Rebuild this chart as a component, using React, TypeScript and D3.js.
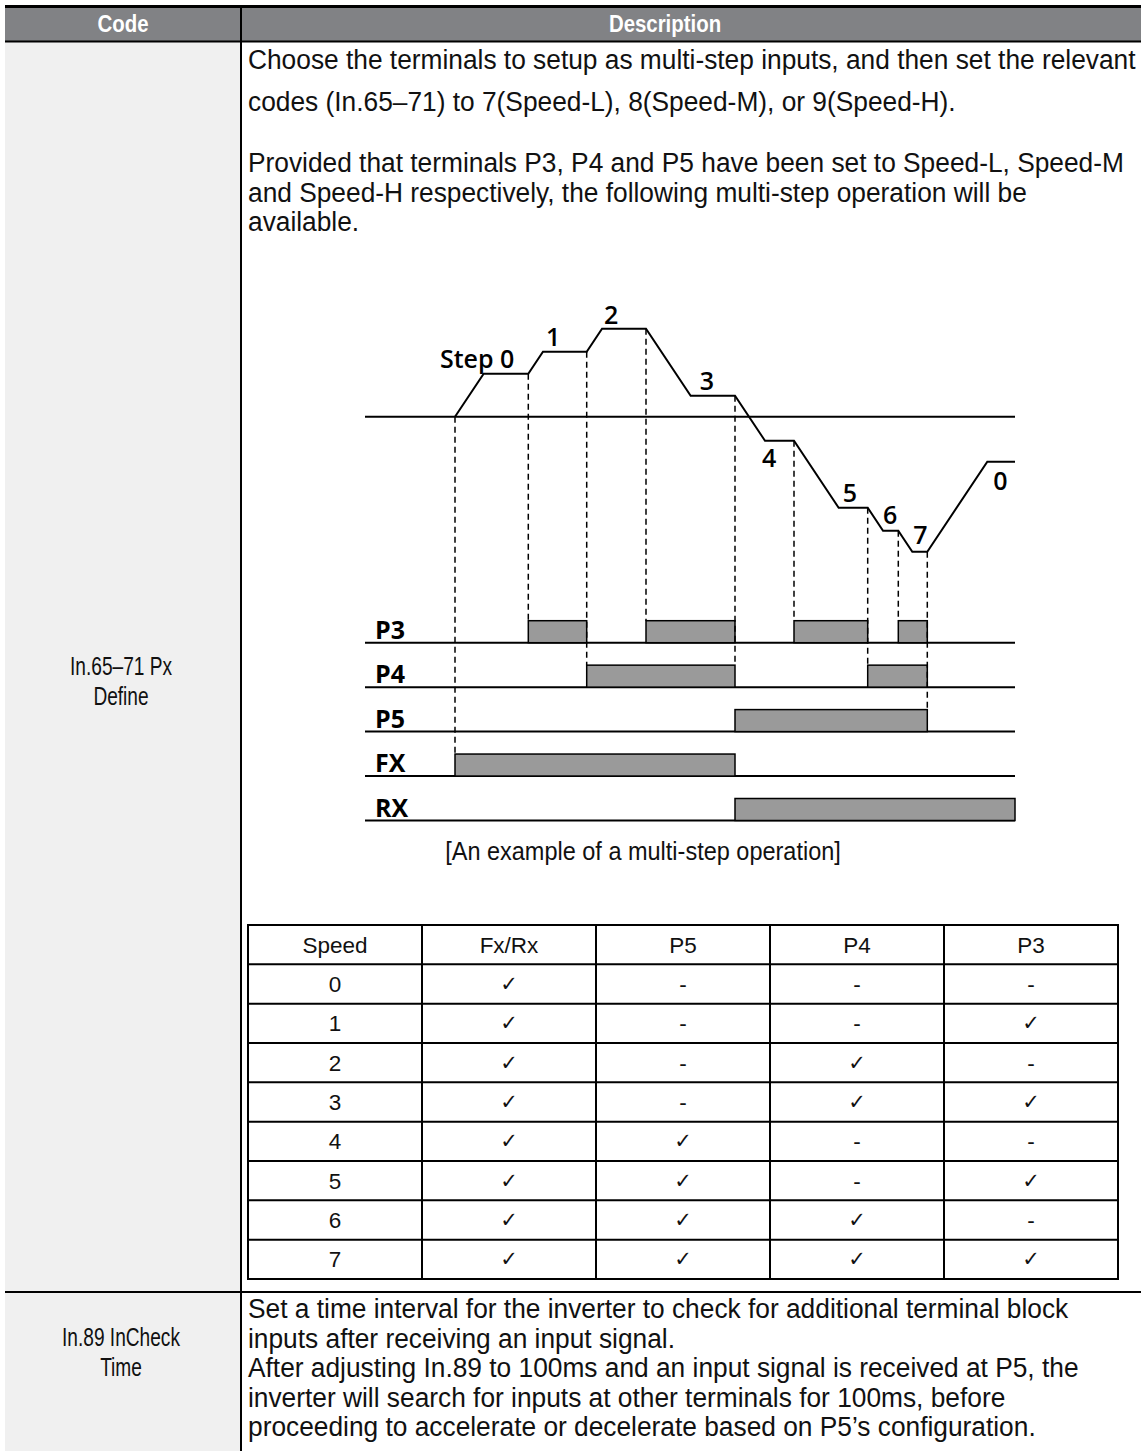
import React from "react";
import * as d3 from "d3";

// ---------------- text content ----------------
const headerLabels = ["Code", "Description"];
const codeRow1 = ["In.65–71 Px", "Define"];
const codeRow2 = ["In.89 InCheck", "Time"];
const introPara1 = [
  "Choose the terminals to setup as multi-step inputs, and then set the relevant",
  "codes (In.65–71) to 7(Speed-L), 8(Speed-M), or 9(Speed-H).",
];
const introPara2 = [
  "Provided that terminals P3, P4 and P5 have been set to Speed-L, Speed-M",
  "and Speed-H respectively, the following multi-step operation will be",
  "available.",
];
const caption = "[An example of a multi-step operation]";
const bottomLines = [
  "Set a time interval for the inverter to check for additional terminal block",
  "inputs after receiving an input signal.",
  "After adjusting In.89 to 100ms and an input signal is received at P5, the",
  "inverter will search for inputs at other terminals for 100ms, before",
  "proceeding to accelerate or decelerate based on P5’s configuration.",
];

// ---------------- speed table ----------------
const tableColumns = ["Speed", "Fx/Rx", "P5", "P4", "P3"];
const speedSteps = ["0", "1", "2", "3", "4", "5", "6", "7"];
const fxRxCol = ["✓", "✓", "✓", "✓", "✓", "✓", "✓", "✓"];
const p5Col = ["-", "-", "-", "-", "✓", "✓", "✓", "✓"];
const p4Col = ["-", "-", "✓", "✓", "-", "-", "✓", "✓"];
const p3Col = ["-", "✓", "-", "✓", "-", "✓", "-", "✓"];

// ---------------- timing diagram ----------------
const terminals = ["P3", "P4", "P5", "FX", "RX"];
const startTime = -90;
const endTime = 560;
const switchTimes = [0, 73.3, 131.7, 191, 280, 339, 412.7, 443.3, 472.3];
const stepSequence = [0, 1, 2, 3, 4, 5, 6, 7, 0];
const stepDirection = ["FX", "FX", "FX", "FX", "RX", "RX", "RX", "RX", "RX"];
const stepSpeeds = [43, 65, 88, 21, 24, 91, 114, 135, 45];
const stepLabels = ["Step 0", "1", "2", "3", "4", "5", "6", "7", "0"];
const dashTarget = ["FX", "P3", "P4", "P3", "P4", "P3", "P4", "P3", "P5"];
const accelRate = 1.5;

// label placement (layout only)
const labelPlacement = [
  { anchor: "end", ref: "flatEnd", dx: -14, dy: -6 },
  { anchor: "start", ref: "flatStart", dx: 3, dy: -6 },
  { anchor: "start", ref: "flatStart", dx: 2, dy: -5 },
  { anchor: "start", ref: "flatStart", dx: 9, dy: -6 },
  { anchor: "start", ref: "flatStart", dx: -3, dy: 26 },
  { anchor: "start", ref: "flatStart", dx: 4, dy: -6 },
  { anchor: "start", ref: "flatStart", dx: 0, dy: -7 },
  { anchor: "start", ref: "flatStart", dx: 1, dy: -8 },
  { anchor: "start", ref: "flatStart", dx: 6, dy: 28 },
];

const W = 1141;
const H = 1451;
const bodyFont = "'Liberation Sans', Arial, sans-serif";
const tableFont = "'Liberation Sans', Arial, sans-serif";
const diagFont = "'Open Sans', 'Noto Sans', sans-serif";
const bodySize = 28;
const bodySqueeze = 0.94;
const codeSize = 25.5;
const codeSqueeze = 0.75;

function activeFor(term: string, i: number): boolean {
  const s = stepSequence[i];
  if (term === "P3") return p3Col[s] === "✓";
  if (term === "P4") return p4Col[s] === "✓";
  if (term === "P5") return p5Col[s] === "✓";
  return stepDirection[i] === term;
}

function SqText(props: {
  x: number;
  y: number;
  sx: number;
  size: number;
  anchor?: string;
  weight?: any;
  fill?: string;
  children: any;
}) {
  const { x, y, sx, size, anchor, weight, fill, children } = props;
  return (
    <text
      transform={`translate(${x},${y}) scale(${sx},1)`}
      x={0}
      y={0}
      textAnchor={(anchor || "start") as any}
      fontFamily={bodyFont}
      fontSize={size}
      fontWeight={weight || "normal"}
      fill={fill || "#111"}
    >
      {children}
    </text>
  );
}

export default function App() {
  const x = d3.scaleLinear().domain([startTime, endTime]).range([365, 1015]);
  const y = d3.scaleLinear().domain([0, 100]).range([416.7, 316.7]);
  const termY = d3.scalePoint<string>().domain(terminals).range([642.7, 820.5]);
  const barH = 22;

  // speed curve
  const pts: [number, number][] = [[0, 0]];
  const flats: { start: number; end: number; v: number }[] = [];
  let v = 0;
  switchTimes.forEach((t, i) => {
    const next = i + 1 < switchTimes.length ? switchTimes[i + 1] : endTime;
    const target = (stepDirection[i] === "FX" ? 1 : -1) * stepSpeeds[i];
    const reach = t + Math.abs(target - v) / accelRate;
    pts.push([reach, target]);
    pts.push([next, target]);
    flats.push({ start: reach, end: next, v: target });
    v = target;
  });
  const line = d3.line<[number, number]>().x((d) => x(d[0])).y((d) => y(d[1]));
  const valueAt = (i: number) => (i === 0 ? 0 : flats[i - 1].v);

  // bars
  const bars: { term: string; s: number; e: number }[] = [];
  terminals.forEach((term) => {
    let cur: { term: string; s: number; e: number } | null = null;
    switchTimes.forEach((t, i) => {
      const next = i + 1 < switchTimes.length ? switchTimes[i + 1] : endTime;
      if (activeFor(term, i)) {
        if (cur) cur.e = next;
        else cur = { term, s: t, e: next };
      } else if (cur) {
        bars.push(cur);
        cur = null;
      }
    });
    if (cur) bars.push(cur);
  });

  // table scales
  const colX = d3.scaleBand<string>().domain(tableColumns).range([248, 1118]);
  const rowKeys = ["header", ...speedSteps];
  const rowY = d3.scaleBand<string>().domain(rowKeys).range([925, 1279]);
  const colData = [speedSteps, fxRxCol, p5Col, p4Col, p3Col];

  return (
    <div style={{ position: "absolute", left: 0, top: 0 }}>
      <svg width={W} height={H} style={{ display: "block", background: "#fff" }}>
        {/* left column background */}
        <rect x={5} y={42} width={236} height={H - 42} fill="#f0f0f0" />
        {/* header */}
        <rect x={5} y={7} width={W - 5} height={35} fill="#818285" />
        <line x1={5} x2={W} y1={6.5} y2={6.5} stroke="#000" strokeWidth={3} />
        <line x1={5} x2={W} y1={41.5} y2={41.5} stroke="#000" strokeWidth={2} />
        <line x1={241} x2={241} y1={5} y2={H} stroke="#000" strokeWidth={2} />
        <line x1={5} x2={W} y1={1292} y2={1292} stroke="#000" strokeWidth={2} />
        <SqText x={123} y={32} sx={0.85} size={24} anchor="middle" weight="bold" fill="#fff">
          {headerLabels[0]}
        </SqText>
        <SqText x={665} y={32} sx={0.85} size={24} anchor="middle" weight="bold" fill="#fff">
          {headerLabels[1]}
        </SqText>

        {/* code column */}
        {codeRow1.map((t, i) => (
          <SqText key={"c1" + i} x={121} y={675 + i * 29.5} sx={codeSqueeze} size={codeSize} anchor="middle">
            {t}
          </SqText>
        ))}
        {codeRow2.map((t, i) => (
          <SqText key={"c2" + i} x={121} y={1346 + i * 29.5} sx={codeSqueeze} size={codeSize} anchor="middle">
            {t}
          </SqText>
        ))}

        {/* description paragraphs */}
        {introPara1.map((t, i) => (
          <SqText key={"p1" + i} x={248} y={69 + i * 42} sx={bodySqueeze} size={bodySize}>
            {t}
          </SqText>
        ))}
        {introPara2.map((t, i) => (
          <SqText key={"p2" + i} x={248} y={172 + i * 29.5} sx={bodySqueeze} size={bodySize}>
            {t}
          </SqText>
        ))}
        <SqText x={643} y={860} sx={bodySqueeze} size={25} anchor="middle">
          {caption}
        </SqText>
        {bottomLines.map((t, i) => (
          <SqText key={"b" + i} x={248} y={1318 + i * 29.5} sx={bodySqueeze} size={bodySize}>
            {t}
          </SqText>
        ))}

        {/* timing diagram */}
        <line x1={x(startTime)} x2={x(endTime)} y1={y(0)} y2={y(0)} stroke="#000" strokeWidth={2} />
        {terminals.map((term) => (
          <g key={term}>
            <line x1={x(startTime)} x2={x(endTime)} y1={termY(term)} y2={termY(term)} stroke="#000" strokeWidth={2} />
            <text x={x(startTime) + 10} y={(termY(term) as number) - 4} fontFamily={diagFont} fontWeight={700} fontSize={25} fill="#000">
              {term}
            </text>
          </g>
        ))}
        {bars.map((b, i) => (
          <rect
            key={"bar" + i}
            x={x(b.s)}
            y={(termY(b.term) as number) - barH}
            width={x(b.e) - x(b.s)}
            height={barH}
            fill="#9a9a9a"
            stroke="#000"
            strokeWidth={1.5}
          />
        ))}
        {switchTimes.map((t, i) => (
          <line
            key={"dash" + i}
            x1={x(t)}
            x2={x(t)}
            y1={y(valueAt(i))}
            y2={(termY(dashTarget[i]) as number) - barH}
            stroke="#000"
            strokeWidth={1.5}
            strokeDasharray="6 4"
          />
        ))}
        <path d={line(pts) || ""} fill="none" stroke="#000" strokeWidth={2} strokeLinejoin="miter" />
        {flats.map((f, i) => {
          const p = labelPlacement[i];
          const bx = p.ref === "flatEnd" ? x(f.end) : x(f.start);
          return (
            <text
              key={"lab" + i}
              x={bx + p.dx}
              y={y(f.v) + p.dy}
              textAnchor={p.anchor as any}
              fontFamily={diagFont}
              fontWeight={600}
              fontSize={25}
              fill="#000"
            >
              {stepLabels[i]}
            </text>
          );
        })}

        {/* speed table */}
        <g>
          {rowKeys.map((rk, ri) =>
            tableColumns.map((c, ci) => {
              const txt = ri === 0 ? c : colData[ci][ri - 1];
              const isCheck = txt === "✓";
              return (
                <text
                  key={rk + c}
                  x={(colX(c) as number) + colX.bandwidth() / 2}
                  y={(rowY(rk) as number) + rowY.bandwidth() / 2 + (isCheck ? 7 : 8)}
                  textAnchor="middle"
                  fontFamily={isCheck ? "'DejaVu Sans', sans-serif" : tableFont}
                  fontSize={isCheck ? 21 : 22.5}
                  fill="#111"
                >
                  {txt}
                </text>
              );
            })
          )}
          {rowKeys.concat(["end"]).map((rk, i) => {
            const yy = 925 + i * rowY.step();
            return <line key={"h" + rk} x1={248} x2={1118} y1={yy} y2={yy} stroke="#000" strokeWidth={2} />;
          })}
          {tableColumns.concat(["end"]).map((c, i) => {
            const xx = 248 + i * colX.step();
            return <line key={"v" + c} x1={xx} x2={xx} y1={924} y2={1280} stroke="#000" strokeWidth={2} />;
          })}
        </g>
      </svg>
    </div>
  );
}
